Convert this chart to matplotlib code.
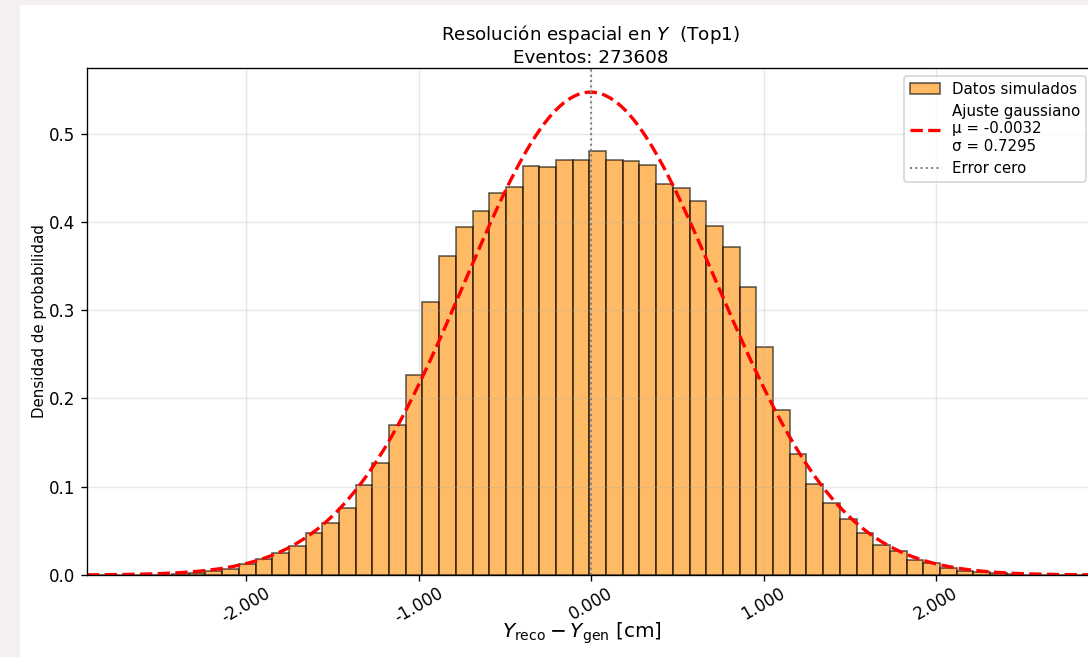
import numpy as np
import matplotlib.pyplot as plt
from matplotlib.patches import Rectangle
from matplotlib.ticker import FormatStrFormatter

n_events = 273608
mu = -0.0032
sigma = 0.7295
bin_range = (-2.912, 2.893)
n_bins = 60
densities = [
    0.0, 0.0, 0.0001, 0.0002, 0.0005, 0.001, 0.002, 0.004, 0.007, 0.012,
    0.018, 0.025, 0.033, 0.048, 0.059, 0.076, 0.102, 0.127, 0.170, 0.227,
    0.309, 0.361, 0.394, 0.412, 0.433, 0.439, 0.463, 0.462, 0.470, 0.470,
    0.480, 0.470, 0.469, 0.464, 0.443, 0.438, 0.424, 0.395, 0.371, 0.326,
    0.258, 0.187, 0.137, 0.103, 0.082, 0.063, 0.048, 0.034, 0.027, 0.017,
    0.0135, 0.008, 0.005, 0.003, 0.002, 0.001, 0.0005, 0.0003, 0.0001, 0.0,
]
x_ticks = [-2.0, -1.0, 0.0, 1.0, 2.0]
y_ticks = [0.0, 0.1, 0.2, 0.3, 0.4, 0.5]

DPI = 120
fig = plt.figure(figsize=(1088/DPI, 657/DPI), dpi=DPI)
fig.patch.set_facecolor('#f4f0f1')
# fondo blanco de la figura (la captura tiene un borde gris)
fig.add_artist(Rectangle((20/1088, 0), 1, 652/657, transform=fig.transFigure,
                         facecolor='white', edgecolor='none', zorder=0))

ax = fig.add_axes([87/1088, 82/657, 1007/1088, 507/657])

edges = np.linspace(bin_range[0], bin_range[1], n_bins + 1)
bars = ax.bar(edges[:-1], densities, width=np.diff(edges), align='edge',
              color='darkorange', alpha=0.6, edgecolor='black', linewidth=1,
              label='Datos simulados')

x_lo, x_hi = mu - 4*sigma, mu + 4*sigma
xs = np.linspace(x_lo, x_hi, 500)
gauss = np.exp(-0.5*((xs - mu)/sigma)**2) / (sigma*np.sqrt(2*np.pi))
fit_line, = ax.plot(xs, gauss, 'r--', linewidth=2,
                    label=f'Ajuste gaussiano\nμ = {mu:.4f}\nσ = {sigma:.4f}')
zero_line = ax.axvline(0, color='gray', linestyle=':', linewidth=1.2, label='Error cero')

ax.set_xlim(x_lo, x_hi)
ax.set_ylim(0, 1.05*gauss.max())
ax.set_xticks(x_ticks)
ax.set_yticks(y_ticks)
ax.xaxis.set_major_formatter(FormatStrFormatter('%.3f'))
plt.setp(ax.get_xticklabels(), rotation=30)
ax.tick_params(axis='x', pad=2)
ax.grid(True, alpha=0.3)

ax.set_title(f'Resolución espacial en $Y$  (Top1)\nEventos: {n_events}', fontsize=11, pad=3)
ax.set_xlabel(r'$Y_{\rm reco} - Y_{\rm gen}$ [cm]', fontsize=12)
ax.xaxis.set_label_coords(0.4916, -0.09)
ax.set_ylabel('Densidad de probabilidad', fontsize=9, labelpad=1)
ax.legend(handles=[bars, fit_line, zero_line], loc='upper right', fontsize=9)

fig.savefig('out.png', dpi=DPI, facecolor=fig.get_facecolor())
